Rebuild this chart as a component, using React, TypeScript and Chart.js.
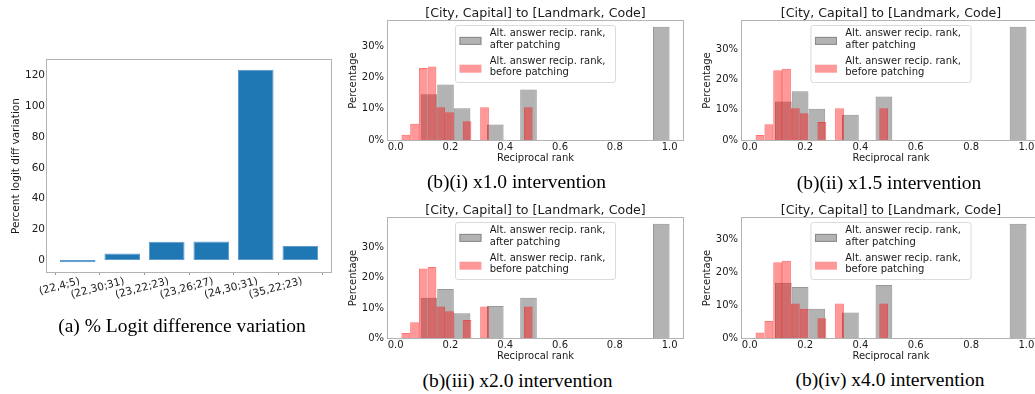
import React, { useEffect, useRef } from 'react';
import { Chart, registerables } from 'chart.js';

Chart.register(...registerables);

// ---------- (a) percent logit-difference variation per patched site ----------
const siteLabels = ['(22,4;5)', '(22,30;31)', '(23,22;23)', '(23,26;27)', '(24,30;31)', '(35,22;23)'];
const logitDiffVariation = [-1.5, 4.3, 11.9, 12.1, 123.9, 9.1];
const logitTicks = [0, 20, 40, 60, 80, 100, 120];

// ---------- (b) reciprocal-rank histograms (percent of prompts per bin) ----------
const rankTicks = [0, 0.2, 0.4, 0.6, 0.8, 1.0];
const percentTicks = [0, 10, 20, 30];
// lowest and highest bin edge; each histogram has 15 equal-width bins
const beforeBinEdges = [1 / 48, 0.5];
const afterBinEdges = [1 / 11, 1.0];
const beforePatching = [1.7, 5.2, 23.1, 23.6, 10.5, 8.9, 0, 6.0, 0, 10.5, 0, 0, 0, 0, 10.5];
const afterPatchingX1_0 = [14.7, 17.8, 10.2, 0, 5.0, 0, 16.2, 0, 0, 0, 0, 0, 0, 0, 36.4];
const afterPatchingX1_5 = [12.8, 16.2, 10.4, 0, 8.4, 0, 14.4, 0, 0, 0, 0, 0, 0, 0, 37.6];
const afterPatchingX2_0 = [13.4, 16.3, 8.2, 0, 10.6, 0, 13.4, 0, 0, 0, 0, 0, 0, 0, 38.0];
const afterPatchingX4_0 = [16.9, 15.6, 8.9, 0, 7.8, 0, 16.2, 0, 0, 0, 0, 0, 0, 0, 34.9];
const histTitle = '[City, Capital] to [Landmark, Code]';
const afterLabel = ['Alt. answer recip. rank,', 'after patching'];
const beforeLabel = ['Alt. answer recip. rank,', 'before patching'];

// ---------- styles ----------
const SANS = '"DejaVu Sans", "Liberation Sans", sans-serif';
const SERIF = '"Liberation Serif", "Times New Roman", serif';
const INK = '#1a1a1a';
const SPINE = '#b3b3b3';
const BLUE = '#1f77b4';
const GRAY_FILL = 'rgba(128,128,128,0.6)';
const GRAY_EDGE = 'rgba(128,128,128,0.82)';
const RED_FILL = 'rgba(255,0,0,0.4)';
const RED_EDGE = 'rgba(255,0,0,0.55)';
const BAR_WIDTH = 0.8;

const fixedTicks = (values: number[]) => (scale: any) => {
  scale.ticks = values.map((value) => ({ value }));
};

const binCenters = (edges: number[], count: number) => {
  const w = (edges[1] - edges[0]) / count;
  return Array.from({ length: count }, (_, i) => edges[0] + (i + 0.5) * w);
};

// Axes box drawn around the plotting area
const axesFrame = {
  id: 'axesFrame',
  afterDatasetsDraw(chart: any) {
    const { ctx, chartArea: a } = chart;
    const l = Math.round(a.left) - 0.5;
    const t = Math.round(a.top) - 0.5;
    const r = Math.round(a.right) + 0.5;
    const b = Math.round(a.bottom) + 0.5;
    ctx.save();
    ctx.strokeStyle = SPINE;
    ctx.lineWidth = 1;
    ctx.strokeRect(l, t, r - l, b - t);
    ctx.restore();
  },
};

// Framed legend in the upper centre of the plotting area, two-line labels
const boxedLegend = {
  id: 'boxedLegend',
  afterDatasetsDraw(chart: any, _args: any, opts: any) {
    const entries = opts.entries || [];
    const { ctx, chartArea: a } = chart;
    ctx.save();
    ctx.font = `10px ${SANS}`;
    let textW = 0;
    entries.forEach((e: any) => e.lines.forEach((l: string) => { textW = Math.max(textW, ctx.measureText(l).width); }));
    const w = 34.3 + textW + 10;
    const h = 57;
    const x = (a.left + a.right) / 2 - w / 2;
    const y = a.top + 4.5;
    const r = 2.5;
    ctx.beginPath();
    ctx.moveTo(x + r, y);
    ctx.lineTo(x + w - r, y);
    ctx.quadraticCurveTo(x + w, y, x + w, y + r);
    ctx.lineTo(x + w, y + h - r);
    ctx.quadraticCurveTo(x + w, y + h, x + w - r, y + h);
    ctx.lineTo(x + r, y + h);
    ctx.quadraticCurveTo(x, y + h, x, y + h - r);
    ctx.lineTo(x, y + r);
    ctx.quadraticCurveTo(x, y, x + r, y);
    ctx.closePath();
    ctx.fillStyle = 'rgba(255,255,255,0.8)';
    ctx.fill();
    ctx.strokeStyle = '#dadada';
    ctx.lineWidth = 1;
    ctx.stroke();
    entries.forEach((e: any, i: number) => {
      const cy = y + 13.9 + i * 27.8;
      ctx.fillStyle = e.fill;
      ctx.fillRect(x + 4, cy - 2.5, 22, 8);
      ctx.strokeStyle = e.edge;
      ctx.strokeRect(x + 4.5, cy - 2, 21, 7);
      ctx.fillStyle = INK;
      ctx.textBaseline = 'middle';
      ctx.textAlign = 'left';
      const n = e.lines.length;
      e.lines.forEach((l: string, j: number) => {
        ctx.fillText(l, x + 34.3, cy + (j - (n - 1) / 2) * 11.1);
      });
    });
    ctx.restore();
  },
};

function logitConfig(): any {
  const xLo = -BAR_WIDTH / 2;
  const xHi = siteLabels.length - 1 + BAR_WIDTH / 2;
  const xPad = 0.05 * (xHi - xLo);
  const yLo = Math.min(0, ...logitDiffVariation);
  const yHi = Math.max(0, ...logitDiffVariation);
  const yPad = 0.05 * (yHi - yLo);
  const tickFont = { family: SANS, size: 10.5 };
  return {
    type: 'bar',
    data: {
      datasets: [
        {
          label: 'Percent logit diff variation',
          data: logitDiffVariation.map((y, i) => ({ x: i, y })),
          backgroundColor: BLUE,
          borderColor: '#5d9bcc',
          borderWidth: 1,
          borderSkipped: false,
          barPercentage: BAR_WIDTH,
          categoryPercentage: 1,
          inflateAmount: 0,
        },
      ],
    },
    options: {
      responsive: false,
      animation: false,
      events: [],
      layout: { padding: { top: 10, right: 9, left: 0, bottom: 0 } },
      plugins: { legend: { display: false }, tooltip: { enabled: false } },
      scales: {
        x: {
          type: 'linear',
          offset: false,
          min: xLo - xPad,
          max: xHi + xPad,
          afterBuildTicks: fixedTicks(siteLabels.map((_, i) => i)),
          afterFit: (s: any) => { s.height = 35; },
          grid: { display: true, drawOnChartArea: false, drawTicks: true, tickLength: 3, tickColor: '#9a9a9a', tickWidth: 1 },
          border: { display: false },
          ticks: {
            autoSkip: false,
            minRotation: 15,
            maxRotation: 15,
            padding: 0,
            labelOffset: 2,
            color: INK,
            font: tickFont,
            callback: (v: any) => siteLabels[v] ?? '',
          },
        },
        y: {
          type: 'linear',
          min: yLo - yPad,
          max: yHi + yPad,
          afterBuildTicks: fixedTicks(logitTicks),
          afterFit: (s: any) => { s.width = 47; },
          grid: { display: false, drawTicks: false },
          border: { display: false },
          ticks: { padding: 2, color: INK, font: tickFont },
          title: {
            display: true,
            text: 'Percent logit diff variation',
            color: INK,
            font: { family: SANS, size: 10.5, lineHeight: 1.2 },
            padding: { top: 9.7, bottom: 0 },
          },
        },
      },
    },
    plugins: [axesFrame],
  };
}

function histConfig(after: number[]): any {
  const beforeX = binCenters(beforeBinEdges, beforePatching.length);
  const afterX = binCenters(afterBinEdges, after.length);
  const lo = Math.min(beforeBinEdges[0], afterBinEdges[0]);
  const hi = Math.max(beforeBinEdges[1], afterBinEdges[1]);
  const xMin = lo - 0.05 * (hi - lo);
  const xMax = hi + 0.05 * (hi - lo);
  const yMax = Math.max(...after, ...beforePatching) * 1.05;
  const tickFont = { family: SANS, size: 10 };
  const barOpts = {
    grouped: false,
    barPercentage: 1,
    categoryPercentage: 1,
    inflateAmount: 0,
    borderWidth: 1,
    borderSkipped: 'start',
  };
  return {
    type: 'bar',
    data: {
      datasets: [
        {
          label: afterLabel.join(' '),
          data: after.map((y, i) => ({ x: afterX[i], y })),
          xAxisID: 'x',
          backgroundColor: GRAY_FILL,
          borderColor: GRAY_EDGE,
          order: 1,
          ...barOpts,
        },
        {
          label: beforeLabel.join(' '),
          data: beforePatching.map((y, i) => ({ x: beforeX[i], y })),
          xAxisID: 'x2',
          backgroundColor: RED_FILL,
          borderColor: RED_EDGE,
          order: 0,
          ...barOpts,
        },
      ],
    },
    options: {
      responsive: false,
      animation: false,
      events: [],
      layout: { padding: { top: 0, right: 4, left: 0, bottom: 0 } },
      plugins: {
        legend: { display: false },
        tooltip: { enabled: false },
        title: {
          display: true,
          fullSize: false,
          text: histTitle,
          color: INK,
          font: { family: SANS, size: 12.6, lineHeight: 1, weight: 'normal' },
          padding: { top: 7.9, bottom: 0.5 },
        },
        boxedLegend: {
          entries: [
            { lines: afterLabel, fill: GRAY_FILL, edge: GRAY_EDGE },
            { lines: beforeLabel, fill: RED_FILL, edge: 'rgba(255,0,0,0)' },
          ],
        },
      },
      scales: {
        x: {
          type: 'linear',
          offset: false,
          min: xMin,
          max: xMax,
          afterBuildTicks: fixedTicks(rankTicks),
          afterFit: (s: any) => { s.height = 26; },
          grid: { display: false, drawTicks: false },
          border: { display: false },
          ticks: {
            autoSkip: false,
            minRotation: 0,
            maxRotation: 0,
            padding: 1,
            color: INK,
            font: tickFont,
            callback: (v: any) => Number(v).toFixed(1),
          },
          title: {
            display: true,
            text: 'Reciprocal rank',
            color: INK,
            font: { family: SANS, size: 10, lineHeight: 1.2 },
            padding: { top: 0, bottom: 2 },
          },
        },
        x2: {
          type: 'linear',
          display: false,
          offset: false,
          min: xMin,
          max: xMax,
          afterBuildTicks: fixedTicks(rankTicks),
        },
        y: {
          type: 'linear',
          min: 0,
          max: yMax,
          afterBuildTicks: fixedTicks(percentTicks),
          afterFit: (s: any) => { s.width = 45; },
          grid: { display: false, drawTicks: false },
          border: { display: false },
          ticks: { padding: 4, color: INK, font: tickFont, callback: (v: any) => `${v}%` },
          title: {
            display: true,
            text: 'Percentage',
            color: INK,
            font: { family: SANS, size: 10, lineHeight: 1.2 },
            padding: { top: 4, bottom: 0 },
          },
        },
      },
    },
    plugins: [axesFrame, boxedLegend],
  };
}

function ChartCanvas({ left, top, width, height, makeConfig }: any) {
  const ref = useRef<HTMLCanvasElement>(null);
  useEffect(() => {
    const chart = new Chart(ref.current as HTMLCanvasElement, makeConfig());
    return () => chart.destroy();
  }, []);
  return (
    <canvas
      ref={ref}
      width={width}
      height={height}
      style={{ position: 'absolute', left, top, width, height, display: 'block' }}
    />
  );
}

// plotting rectangles of the four histogram panels
const histPanels = [
  { key: 'i', after: afterPatchingX1_0, plot: { left: 388, top: 21, right: 683, bottom: 140 } },
  { key: 'ii', after: afterPatchingX1_5, plot: { left: 742, top: 21, right: 1040, bottom: 140 } },
  { key: 'iii', after: afterPatchingX2_0, plot: { left: 388, top: 218, right: 683, bottom: 338 } },
  { key: 'iv', after: afterPatchingX4_0, plot: { left: 742, top: 218, right: 1040, bottom: 338 } },
];

const captions = [
  { text: '(a) % Logit difference variation', cx: 182, top: 315.5 },
  { text: '(b)(i) x1.0 intervention', cx: 516.5, top: 171.5 },
  { text: '(b)(ii) x1.5 intervention', cx: 889, top: 173 },
  { text: '(b)(iii) x2.0 intervention', cx: 517.5, top: 371 },
  { text: '(b)(iv) x4.0 intervention', cx: 890, top: 369.5 },
];

export default function App() {
  return (
    <div
      style={{
        position: 'absolute',
        left: 0,
        top: 0,
        width: 1035,
        height: 394,
        overflow: 'hidden',
        background: '#ffffff',
      }}
    >
      <ChartCanvas left={0} top={50} width={340} height={257} makeConfig={logitConfig} />
      {histPanels.map((p) => {
        const left = p.plot.left - 45;
        const top = p.plot.top - 21;
        const width = p.plot.right + 4 - left;
        const height = p.plot.bottom + 26 - top;
        return (
          <ChartCanvas
            key={p.key}
            left={left}
            top={top}
            width={width}
            height={height}
            makeConfig={() => histConfig(p.after)}
          />
        );
      })}
      {captions.map((c) => (
        <div
          key={c.text}
          style={{
            position: 'absolute',
            left: c.cx - 200,
            top: c.top,
            width: 400,
            textAlign: 'center',
            fontFamily: SERIF,
            fontSize: '19.5px',
            lineHeight: '19.5px',
            color: '#000',
            whiteSpace: 'nowrap',
          }}
        >
          {c.text}
        </div>
      ))}
    </div>
  );
}
